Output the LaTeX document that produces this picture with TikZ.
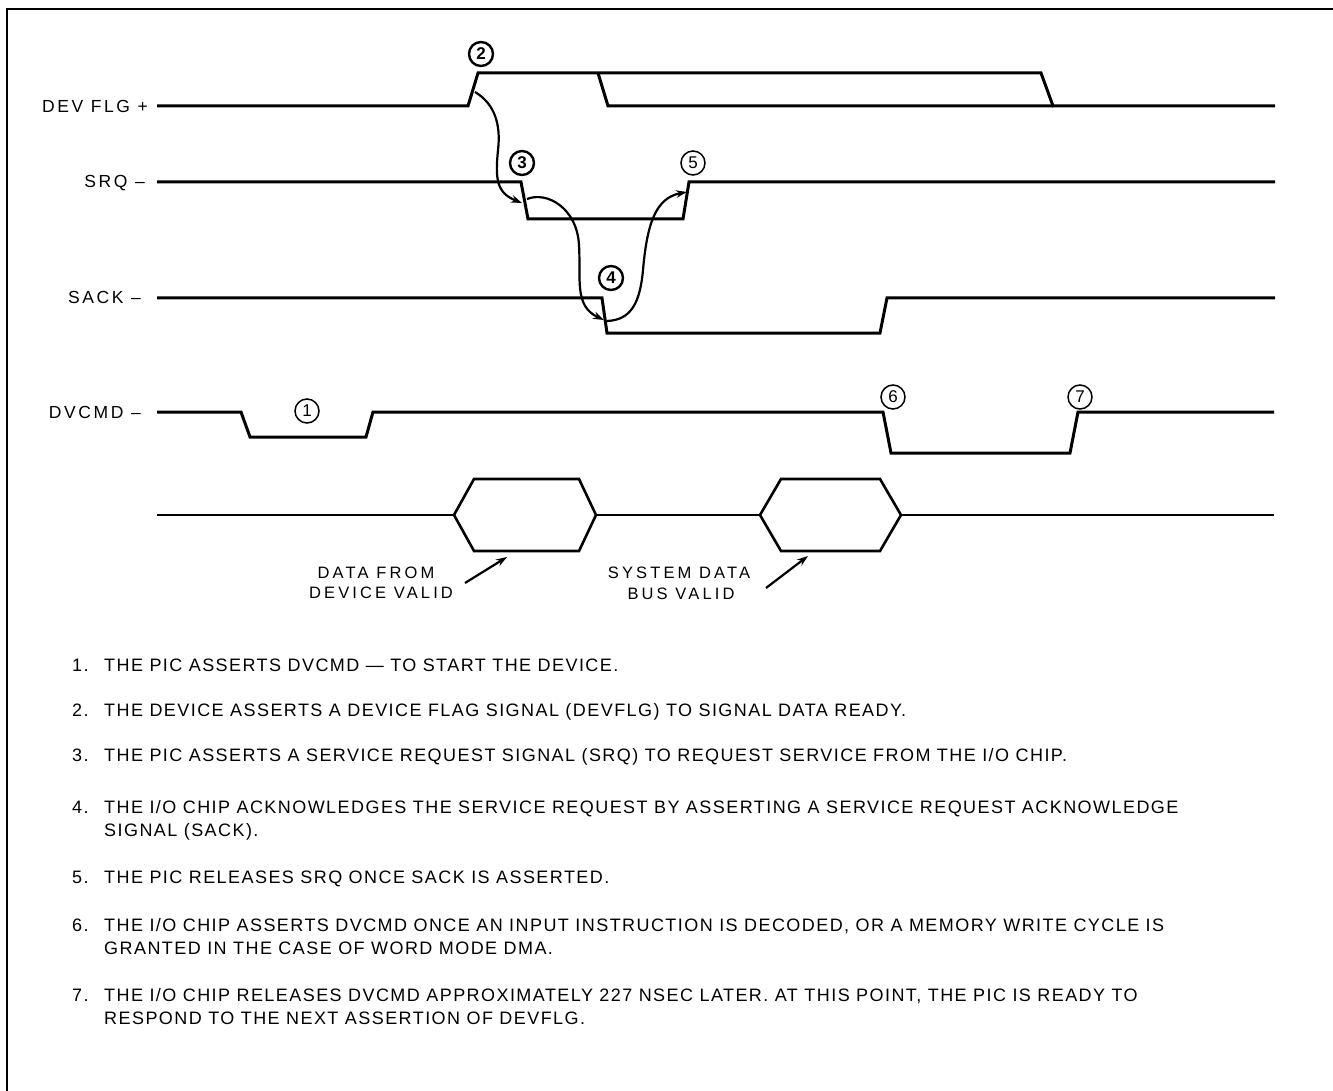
\documentclass[tikz,border=0pt]{standalone}
\usepackage{fontspec}
\setmainfont{Liberation Sans}
\newfontfamily\bodyfont[LetterSpace=8]{Liberation Sans}
\newfontfamily\labfont[LetterSpace=15]{Liberation Sans}
\newfontfamily\buslabfont[LetterSpace=19]{Liberation Sans}
\usetikzlibrary{arrows.meta}
\begin{document}
\begin{tikzpicture}[x=1pt,y=-1pt,
  sig/.style={line width=3pt,line join=miter,line cap=butt},
  bus/.style={line width=2.6pt,line join=miter},
  arr/.style={line width=2.2pt,-{Stealth[length=11pt,width=7.5pt]}},
  lab/.style={font=\labfont\fontsize{17.5}{21}\selectfont,inner sep=0pt,anchor=base east},
  blab/.style={font=\buslabfont\fontsize{16.5}{20}\selectfont,inner sep=0pt,anchor=base},
  body/.style={font=\bodyfont\fontsize{18}{21}\selectfont,inner sep=0pt,anchor=base west},
  circ/.style={circle,draw,line width=1.5pt,minimum size=24pt,inner sep=0pt,font=\fontsize{17}{17}\selectfont},
  circb/.style={circ,line width=2.4pt,font=\bfseries\fontsize{17}{17}\selectfont}]
\useasboundingbox (0,0) rectangle (1333,1091);
% frame
\draw[line width=2pt] (7,1091) -- (7,9) -- (1333,9);

% signal labels
\node[lab] (ldev) at (148,113) {DEV FLG +};
\node[lab] (lsrq) at (145,188) {SRQ –};
\node[lab] (lsack) at (141,304) {SACK –};
\node[lab] (ldvc) at (141,418) {DVCMD –};

% DEV FLG waveform
\draw[sig] (157,106) -- (468,106) -- (478,73) -- (1041,73) -- (1053,106) -- (1275,106);
\draw[sig] (598,73) -- (608,106) -- (1053,106);
% SRQ
\draw[sig] (157,182) -- (521,182) -- (528,219) -- (683,219) -- (689,182) -- (1275,182);
% SACK
\draw[sig] (157,298) -- (602,298) -- (607,333) -- (880,333) -- (887,298) -- (1275,298);
% DVCMD
\draw[sig] (157,412) -- (241,412) -- (250,437) -- (366,437) -- (373,412) -- (883,412) -- (891,453) -- (1070,453) -- (1078,412) -- (1274,412);
% data bus
\draw[bus] (157,515) -- (454,515);
\draw[bus] (454,515) -- (474,479) -- (579,479) -- (596,515) -- (579,551) -- (474,551) -- cycle;
\draw[bus] (596,515) -- (760,515);
\draw[bus] (760,515) -- (781,479) -- (880,479) -- (901,515) -- (880,551) -- (781,551) -- cycle;
\draw[bus] (901,515) -- (1274,515);

% circled numbers
\node[circ] (c1) at (307,411) {1};
\node[circb] (c2) at (481,54) {2};
\node[circb] (c3) at (522,163) {3};
\node[circb] (c4) at (611,278) {4};
\node[circ] (c5) at (693,163) {5};
\node[circ] (c6) at (893,397) {6};
\node[circ] (c7) at (1080,397) {7};

% sequence arrows
\coordinate (e2) at (475,92);
\coordinate (e3in) at (522,203);
\coordinate (e3out) at (527,199);
\coordinate (e4in) at (604,320);
\coordinate (e4out) at (607,321);
\coordinate (e5in) at (687,192);
\draw[arr] (e2) .. controls (495,104) and (501,125) .. (498,150)
  .. controls (495,180) and (497,193) .. (e3in);
\draw[arr] (e3out) .. controls (547,191) and (577,208) .. (579,245)
  .. controls (581,280) and (574,306) .. (e4in);
\draw[arr] (e4out) .. controls (631,320) and (640,303) .. (643,270)
  .. controls (647,225) and (655,198) .. (e5in);

% bus labels
\node[blab] (d1) at (376,578) {DATA FROM};
\node[blab] (d2) at (381,598) {DEVICE VALID};
\node[blab] (s1) at (679,578) {SYSTEM DATA};
\node[blab] (s2) at (681,599) {BUS VALID};
\coordinate (h1) at (507,557);
\coordinate (h2) at (808,556);
\coordinate (t1s) at (465,583);
\coordinate (t2s) at (766,588);
\draw[arr] (t1s) -- (h1);
\draw[arr] (t2s) -- (h2);

% notes
\node[body] (n1) at (72,671) {1.};
\node[body] (t1) at (104,671) {THE PIC ASSERTS DVCMD — TO START THE DEVICE.};
\node[body] (n2) at (72,716) {2.};
\node[body] (t2) at (104,716) {THE DEVICE ASSERTS A DEVICE FLAG SIGNAL (DEVFLG) TO SIGNAL DATA READY.};
\node[body] (n3) at (72,761) {3.};
\node[body] (t3) at (104,761) {THE PIC ASSERTS A SERVICE REQUEST SIGNAL (SRQ) TO REQUEST SERVICE FROM THE I/O CHIP.};
\node[body] (n4) at (72,813) {4.};
\node[body] (t4a) at (104,813) {THE I/O CHIP ACKNOWLEDGES THE SERVICE REQUEST BY ASSERTING A SERVICE REQUEST ACKNOWLEDGE};
\node[body] (t4b) at (104,836) {SIGNAL (SACK).};
\node[body] (n5) at (72,883) {5.};
\node[body] (t5) at (104,883) {THE PIC RELEASES SRQ ONCE SACK IS ASSERTED.};
\node[body] (n6) at (72,931) {6.};
\node[body] (t6a) at (104,931) {THE I/O CHIP ASSERTS DVCMD ONCE AN INPUT INSTRUCTION IS DECODED, OR A MEMORY WRITE CYCLE IS};
\node[body] (t6b) at (104,954) {GRANTED IN THE CASE OF WORD MODE DMA.};
\node[body] (n7) at (72,1001) {7.};
\node[body] (t7a) at (104,1001) {THE I/O CHIP RELEASES DVCMD APPROXIMATELY 227 NSEC LATER. AT THIS POINT, THE PIC IS READY TO};
\node[body] (t7b) at (104,1024) {RESPOND TO THE NEXT ASSERTION OF DEVFLG.};
\end{tikzpicture}
\end{document}
